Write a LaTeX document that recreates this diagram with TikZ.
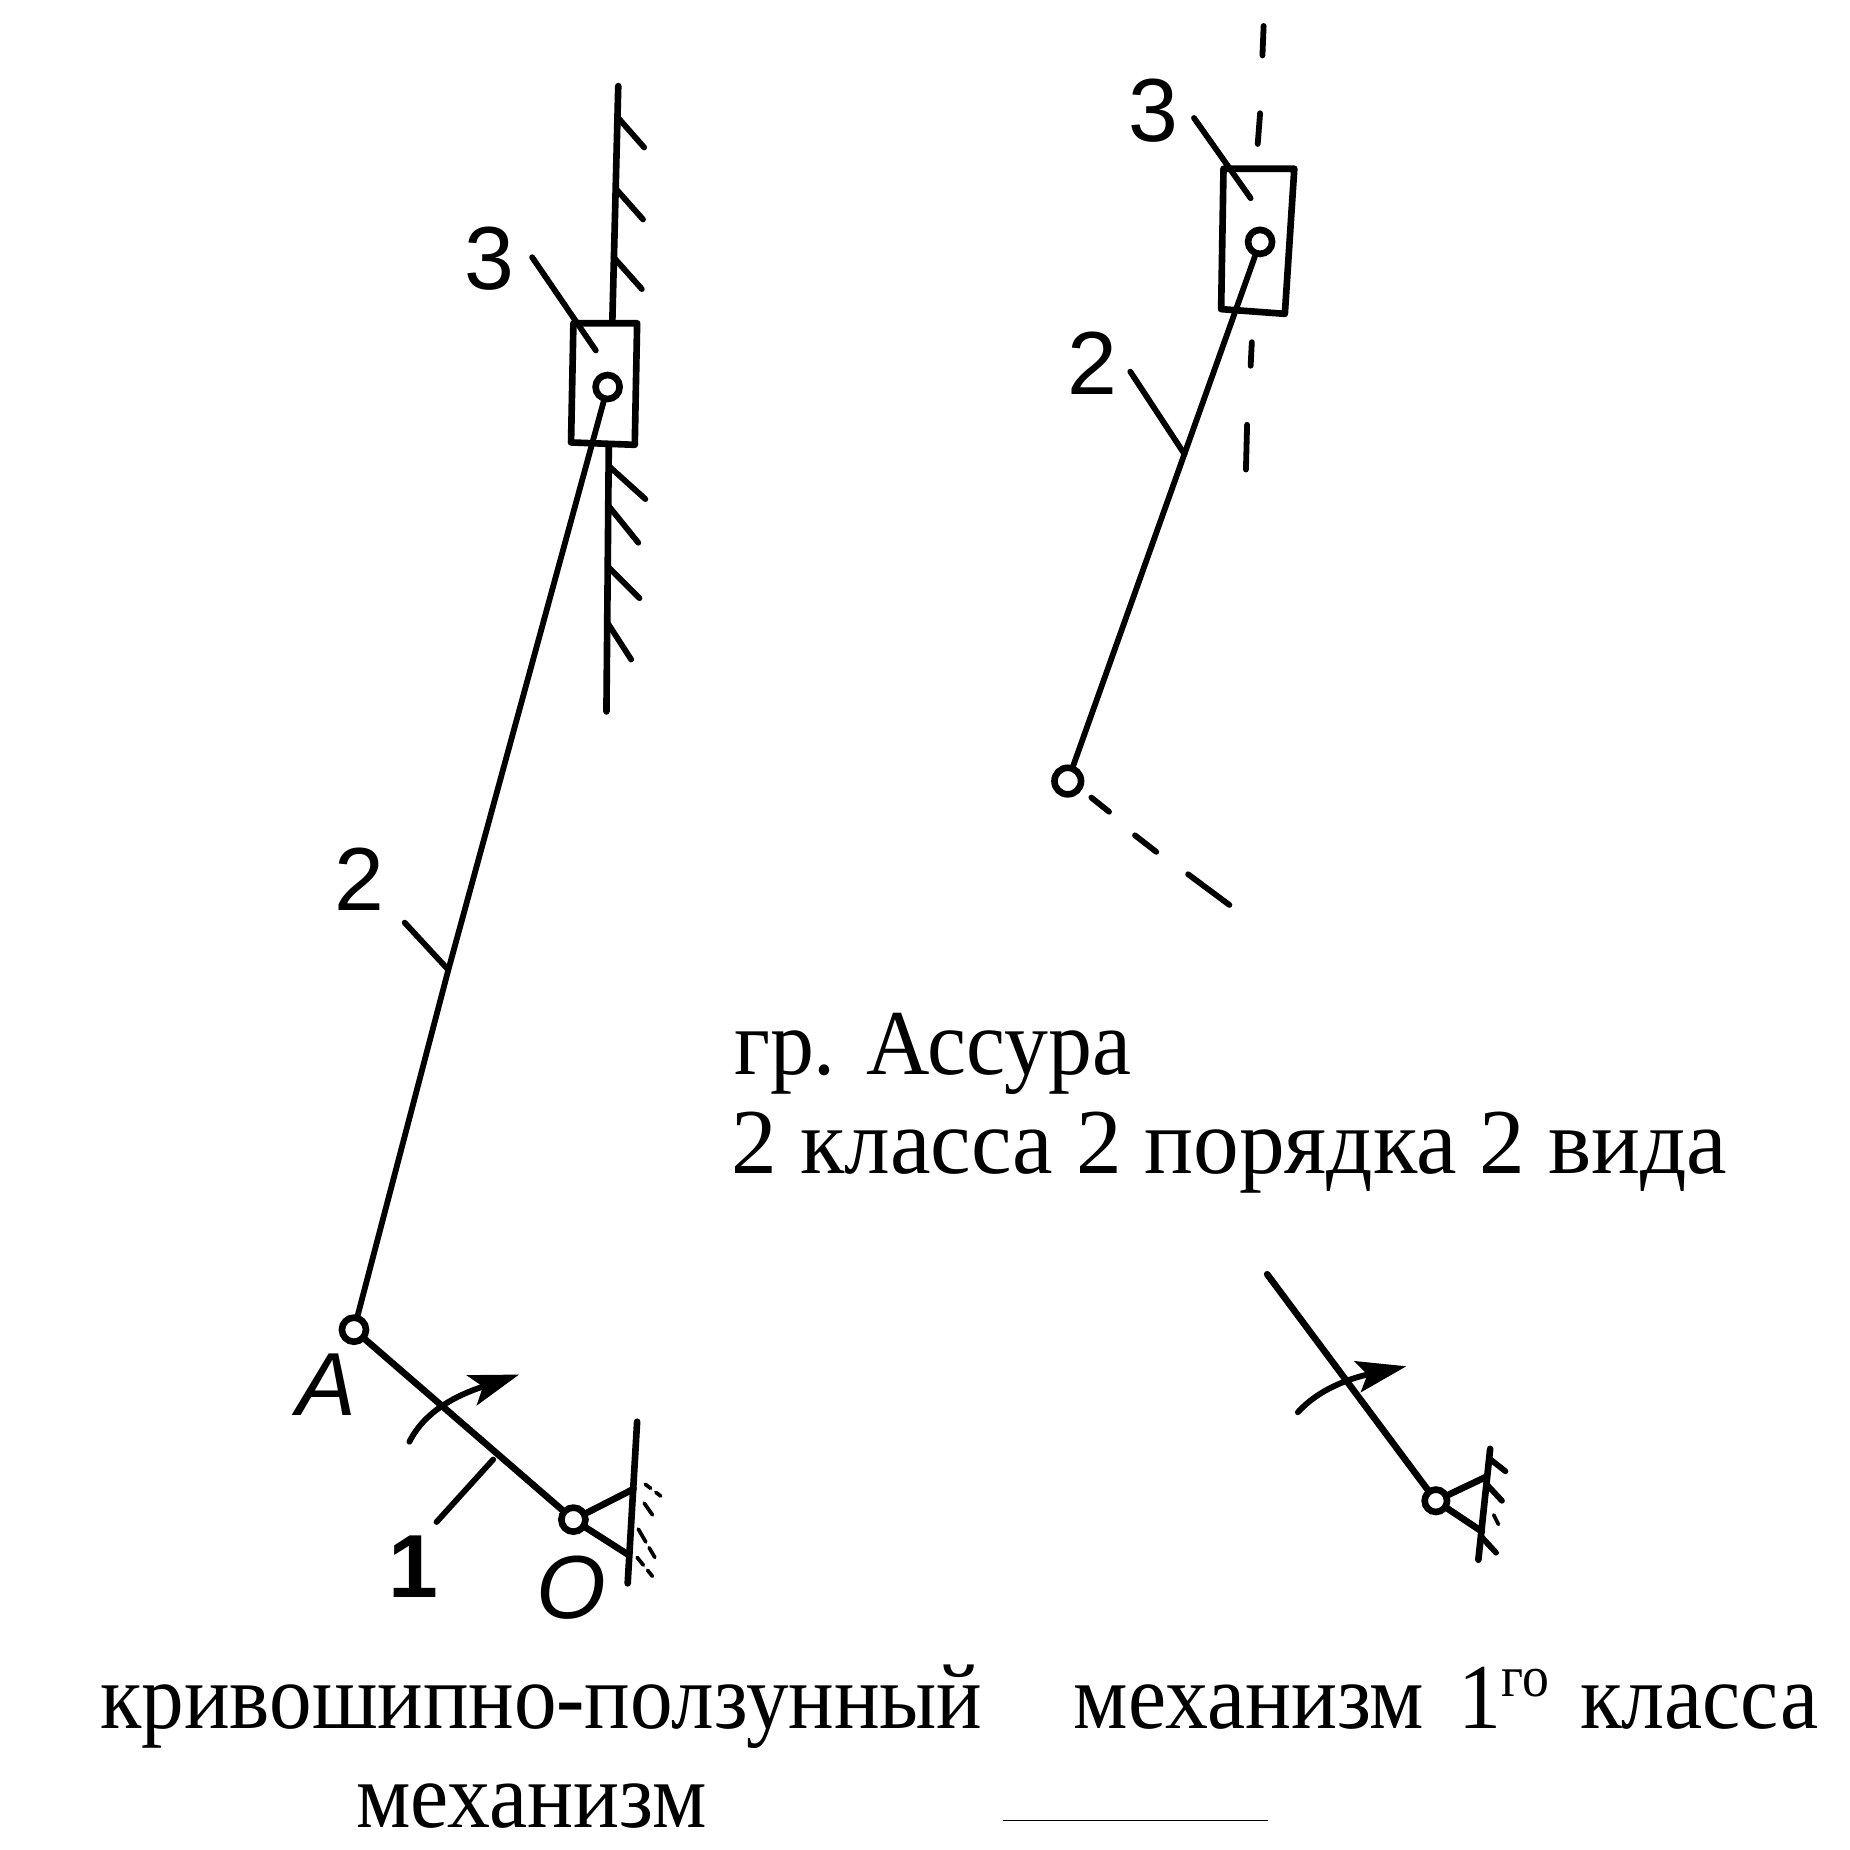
\documentclass[tikz,border=0pt]{standalone}
\usepackage{fontspec}
\setmainfont{Liberation Serif}
\setsansfont{Liberation Sans}
\usetikzlibrary{arrows.meta}
\tikzset{
  x=0.5mm,y=-0.5mm,
  link/.style={line width=8pt,line cap=round,line join=round},
  thinlink/.style={line width=7pt,line cap=round,line join=round},
  hatch/.style={line width=7pt,line cap=round},
  dust/.style={line width=4.5pt,line cap=round},
  pin/.style={circle,draw,fill=white,line width=8pt,inner sep=0pt,minimum size=29pt},
  num/.style={font=\sffamily\fontsize{108}{108}\selectfont,inner sep=0pt,anchor=base},
  let/.style={font=\sffamily\itshape\fontsize{108}{108}\selectfont,inner sep=0pt,anchor=base},
  txt/.style={font=\fontsize{112}{112}\selectfont,inner sep=0pt,anchor=base west,transform shape},
}
\begin{document}
\begin{tikzpicture}
\useasboundingbox (0,0) rectangle (1568,1568);
% LEFT MECHANISM
\coordinate (wt) at (524,73); \coordinate (wb) at (519,272);
\draw[link] (wt) -- (wb);
\coordinate (h1a) at (524,100); \coordinate (h1b) at (546,125); \draw[hatch] (h1a) -- (h1b);
\coordinate (h2a) at (522,160); \coordinate (h2b) at (545,186); \draw[hatch] (h2a) -- (h2b);
\coordinate (h3a) at (520,218); \coordinate (h3b) at (544,245); \draw[hatch] (h3a) -- (h3b);
\coordinate (wlt) at (516,377); \coordinate (wlb) at (514,603);
\draw[link] (wlt) -- (wlb);
\coordinate (h4a) at (516,395); \coordinate (h4b) at (547,423); \draw[hatch] (h4a) -- (h4b);
\coordinate (h5a) at (516,429); \coordinate (h5b) at (541,460); \draw[hatch] (h5a) -- (h5b);
\coordinate (h6a) at (515,480); \coordinate (h6b) at (542,507); \draw[hatch] (h6a) -- (h6b);
\coordinate (h7a) at (515,528); \coordinate (h7b) at (535,559); \draw[hatch] (h7a) -- (h7b);
\coordinate (b1) at (486,274); \coordinate (b2) at (540,274); \coordinate (b3) at (538,377); \coordinate (b4) at (484,375);
\draw[link,line cap=butt] (b1) -- (b2) -- (b3) -- (b4) -- cycle;
\node[pin] (B) at (515,328) {};
\node[pin] (A) at (300,1127) {};
\coordinate (r2) at (380,822);
\draw[thinlink] (B) -- (r2) -- (A);
\coordinate (l3a) at (451,218); \coordinate (l3b) at (505,297); \draw[hatch] (l3a) -- (l3b);
\node[num] (n3) at (415,245) {3};
\node[num] (n2) at (305,772) {2};
\coordinate (l2a) at (343,782); \draw[hatch] (l2a) -- (r2);
\node[pin] (O) at (486,1288) {};
\draw[link] (A) -- (O);
\coordinate (c1) at (418,1237); \coordinate (l1a) at (370,1290); \draw[hatch] (l1a) -- (c1);
\coordinate (a1s) at (347,1222); \coordinate (a1e) at (440,1165);
\draw[hatch,-{Stealth[length=60pt,width=38pt,inset=14pt]}] (a1s) .. controls (362,1192) and (395,1180) .. (a1e);
\node[num,font=\sffamily\bfseries\fontsize{108}{108}\selectfont] (n1) at (350,1354) {1};
\node[let] (nA) at (277,1200) {A};
\node[let] (nO) at (484,1372) {O};
\coordinate (s1t) at (540,1205); \coordinate (s1b) at (532,1342);
\draw[link] (s1t) -- (s1b);
\coordinate (s1u) at (537,1262); \coordinate (s1l) at (533,1318);
\draw[link] (O) -- (s1u); \draw[link] (O) -- (s1l);
\coordinate (d1a) at (547,1258); \coordinate (d1b) at (560,1268); \draw[dust,dash pattern=on 8pt off 8pt] (d1a) -- (d1b);
\coordinate (d2a) at (546,1274); \coordinate (d2b) at (553,1284); \draw[dust] (d2a) -- (d2b);
\coordinate (d3a) at (541,1296); \coordinate (d3b) at (555,1320); \draw[dust,dash pattern=on 18pt off 8pt] (d3a) -- (d3b);
\coordinate (d4a) at (540,1320); \coordinate (d4b) at (553,1336); \draw[dust,dash pattern=on 12pt off 8pt] (d4a) -- (d4b);
\node[txt,xscale=0.916] (t1) at (85,1465) {кривошипно-ползунный};
\node[txt,xscale=0.925] (t2) at (302,1549) {механизм};
% RIGHT MECHANISM
\coordinate (da1) at (1071,22); \coordinate (da2) at (1070,47); \draw[hatch] (da1) -- (da2);
\coordinate (da3) at (1068,96); \coordinate (da4) at (1066,122); \draw[hatch] (da3) -- (da4);
\coordinate (da5) at (1061,290); \coordinate (da6) at (1060,310); \draw[hatch] (da5) -- (da6);
\coordinate (da7) at (1057,360); \coordinate (da8) at (1056,398); \draw[hatch] (da7) -- (da8);
\coordinate (rb1) at (1037,143); \coordinate (rb2) at (1097,143); \coordinate (rb3) at (1089,266); \coordinate (rb4) at (1035,262);
\draw[link,line cap=butt] (rb1) -- (rb2) -- (rb3) -- (rb4) -- cycle;
\node[pin] (C) at (1068,205) {};
\node[pin,minimum size=32pt] (D) at (905,662) {};
\draw[thinlink] (C) -- (D);
\coordinate (rl3a) at (1012,100); \coordinate (rl3b) at (1060,168); \draw[hatch] (rl3a) -- (rl3b);
\node[num] (rn3) at (978,120) {3};
\node[num] (rn2) at (926,334) {2};
\coordinate (rl2a) at (958,315); \coordinate (rl2b) at (1004,385); \draw[hatch] (rl2a) -- (rl2b);
\coordinate (e1) at (925,676); \coordinate (e2) at (940,688); \draw[hatch] (e1) -- (e2);
\coordinate (e3) at (962,708); \coordinate (e4) at (980,722); \draw[hatch] (e3) -- (e4);
\coordinate (e5) at (1007,741); \coordinate (e6) at (1042,767); \draw[hatch] (e5) -- (e6);
\node[txt,xscale=0.945] (t3) at (622,911) {гр.\hspace{0.35em}Ассура};
\node[txt,xscale=0.983] (t4) at (620,995) {2 класса 2 порядка 2 вида};
\coordinate (cr) at (1074,1080);
\node[pin,minimum size=27pt] (E) at (1217,1272) {};
\draw[link] (cr) -- (E);
\coordinate (a2s) at (1100,1197); \coordinate (a2e) at (1192,1158);
\draw[hatch,-{Stealth[length=60pt,width=38pt,inset=12pt]}] (a2s) .. controls (1118,1177) and (1145,1168) .. (a2e);
\coordinate (s2t) at (1263,1228); \coordinate (s2b) at (1253,1322);
\draw[link] (s2t) -- (s2b);
\coordinate (s2u) at (1259,1252); \coordinate (s2l) at (1256,1298);
\draw[link] (E) -- (s2u); \draw[link] (E) -- (s2l);
\coordinate (g1a) at (1262,1236); \coordinate (g1b) at (1276,1247); \draw[hatch] (g1a) -- (g1b);
\coordinate (g2a) at (1260,1258); \coordinate (g2b) at (1273,1272); \draw[hatch] (g2a) -- (g2b);
\coordinate (g3a) at (1266,1284); \coordinate (g3b) at (1270,1292); \draw[dust] (g3a) -- (g3b);
\coordinate (g4a) at (1256,1303); \coordinate (g4b) at (1268,1316); \draw[hatch] (g4a) -- (g4b);
\node[txt,xscale=0.925] (t5) at (910,1465) {механизм\hspace{0.40em}1\raisebox{0.34em}{\fontsize{70}{70}\selectfont го}\hspace{0.36em}класса};
\coordinate (u1) at (850,1543); \coordinate (u2) at (1075,1543);
\draw[line width=2pt] (u1) -- (u2);
\end{tikzpicture}
\end{document}
